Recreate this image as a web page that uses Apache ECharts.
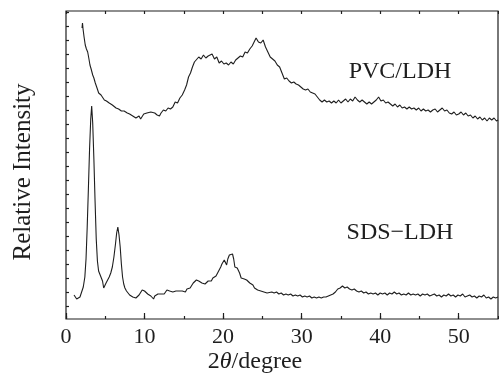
<!DOCTYPE html>
<html>
<head>
<meta charset="utf-8">
<script src="https://cdn.jsdelivr.net/npm/echarts@6/dist/echarts.min.js"></script>
<style>html,body{margin:0;padding:0;background:#fff}#c{width:499px;height:380px}</style>
</head>
<body>
<div id="c"></div>
<script>
// 2θ (degree) and relative intensity (a.u.)
const pvcTheta = [2.04,2.1,2.17,2.3,2.45,2.6,2.76,2.9,3.05,3.2,3.4,3.55,3.73,3.95,4.16,4.3,4.46,4.65,4.88,5.0,5.15,5.3,5.5,5.73,5.9,6.1,6.37,6.5,6.7,6.9,7.05,7.2,7.4,7.64,7.8,7.95,8.1,8.3,8.5,8.7,8.9,9.1,9.3,9.5,9.7,9.9,10.1,10.3,10.5,10.8,11.0,11.3,11.6,11.9,12.1,12.4,12.7,13.0,13.3,13.6,13.9,14.2,14.5,14.8,15.1,15.35,15.6,15.85,16.1,16.35,16.6,16.9,17.2,17.5,17.8,18.1,18.3,18.6,18.9,19.2,19.5,19.8,20.1,20.4,20.7,21.0,21.3,21.6,21.9,22.2,22.5,22.8,23.1,23.4,23.7,23.9,24.2,24.5,24.8,25.1,25.4,25.7,26.0,26.3,26.6,26.9,27.2,27.5,27.8,28.1,28.4,28.7,29.0,29.3,29.6,29.9,30.2,30.5,30.8,31.1,31.4,31.7,32.0,32.3,32.6,32.9,33.2,33.5,33.8,34.1,34.4,34.7,35.0,35.3,35.6,35.9,36.2,36.5,36.8,37.1,37.4,37.7,38.0,38.3,38.6,38.9,39.2,39.5,39.8,40.1,40.4,40.7,41.0,41.3,41.6,41.9,42.2,42.5,42.8,43.1,43.4,43.7,44.0,44.3,44.6,44.9,45.2,45.5,45.8,46.1,46.4,46.7,47.0,47.3,47.6,47.9,48.2,48.5,48.8,49.1,49.4,49.7,50.0,50.3,50.6,50.9,51.2,51.5,51.8,52.1,52.4,52.7,53.0,53.3,53.6,53.9,54.2,54.5,54.8,55.0];
const pvcIntensity = [291,296,290,282,274,270,267,261,254,250,244,241,236,231,226,227,224,222,219,221,218,219,216,217,214,213,211,213,210,211,208,206,208,209,206,207,205,206,203,204,201,199,203,200,202,205,203,206,205,207,205,206,204,203,206,209,208,211,210,212,217,216,221,224,229,234,242,246,252,257,256,262,260,264,261,263,262,265,260,262,256,258,255,256,254,257,255,259,261,263,262,267,266,270,273,275,281,277,276,279,272,267,262,260,258,254,252,246,240,241,238,236,237,235,234,232,230,229,230,227,226,225,222,219,217,219,217,218,216,218,216,219,216,218,220,217,220,218,222,219,217,219,217,215,217,215,217,219,222,218,219,216,217,215,213,215,212,214,211,212,210,212,210,211,209,211,208,210,208,209,207,209,210,207,209,211,208,209,206,205,207,204,205,207,204,206,203,204,201,203,200,202,199,201,198,201,199,201,198,199,197];

const sdsTheta = [1.02,1.36,1.78,2.2,2.4,2.55,2.7,2.85,3.0,3.15,3.27,3.4,3.55,3.7,3.85,4.0,4.15,4.3,4.5,4.65,4.8,4.95,5.1,5.3,5.5,5.7,5.9,6.1,6.3,6.45,6.6,6.75,6.9,7.05,7.2,7.35,7.5,7.7,7.9,8.1,8.3,8.5,8.7,8.9,9.1,9.3,9.5,9.7,9.85,10.0,10.2,10.4,10.6,10.8,11.0,11.15,11.3,11.5,11.7,11.9,12.1,12.3,12.5,12.7,12.85,13.0,13.2,13.4,13.6,13.8,14.0,14.2,14.4,14.6,14.8,15.0,15.2,15.4,15.6,15.8,16.0,16.2,16.4,16.6,16.75,16.9,17.1,17.3,17.5,17.7,17.9,18.1,18.3,18.5,18.7,18.9,19.1,19.3,19.5,19.7,19.85,20.0,20.15,20.3,20.45,20.6,20.8,20.95,21.05,21.2,21.35,21.5,21.65,21.8,21.95,22.1,22.3,22.5,22.7,22.85,23.0,23.2,23.4,23.6,23.8,24.0,24.2,24.4,24.6,24.8,25.0,25.2,25.4,25.6,25.8,26.2,26.5,26.8,27.1,27.4,27.7,28.0,28.3,28.6,28.9,29.2,29.5,29.8,30.1,30.4,30.7,31.0,31.3,31.6,31.9,32.2,32.5,32.8,33.1,33.4,33.7,34.0,34.3,34.6,34.9,35.2,35.5,35.8,36.1,36.4,36.7,37.0,37.3,37.6,37.9,38.2,38.5,38.8,39.1,39.4,39.7,40.0,40.3,40.6,40.9,41.2,41.5,41.8,42.1,42.4,42.7,43.0,43.3,43.6,43.9,44.2,44.5,44.8,45.1,45.4,45.7,46.0,46.3,46.6,46.9,47.2,47.5,47.8,48.1,48.4,48.7,49.0,49.3,49.6,49.9,50.2,50.5,50.8,51.1,51.4,51.7,52.0,52.3,52.6,52.9,53.2,53.5,53.8,54.1,54.4,54.7,55.0];
const sdsIntensity = [24,20,22,32,42,60,92,130,170,200,213,196,160,118,80,58,48,45,45,38,31,33,36,38,42,46,52,62,75,86,92,84,72,55,42,35,31,28,26,24,25,22,23,21,23,24,26,29,30,28,27,25,26,23,22,20,23,22,25,23,25,23,25,26,29,31,28,30,27,29,28,30,28,30,28,29,27,30,29,31,33,36,35,39,41,38,39,36,37,35,36,38,39,38,41,42,43,46,49,52,55,56,59,58,54,60,64,62,65,65,60,52,53,51,50,46,41,39,40,38,39,38,36,37,34,31,31,29,30,28,28,27,28,26,26,27,26,27,25,26,24,25,24,25,23,24,23,24,22,23,22,23,21,22,21,22,21,22,22,23,24,25,27,30,31,33,31,32,30,29,30,28,27,28,26,27,25,26,25,26,24,26,25,26,24,26,25,27,25,26,24,25,24,26,24,25,24,25,23,25,24,25,23,24,25,23,24,22,24,23,25,23,24,22,24,23,25,22,23,24,22,23,21,23,22,24,21,22,20,22,21,22];

const xTickLabels = [0, 10, 20, 30, 40, 50];
const yTickValues = [13,27,41,55,69,83,97,111,125,139,153,167,181,195,209,223,237,251,265,279,293,307];
const seriesNames = ['PVC/LDH', 'SDS\u2212LDH'];

const serif = '"Liberation Serif", "Times New Roman", Times, serif';
const ink = '#1e1e1e';

const chart = echarts.init(document.getElementById('c'), null, {renderer: 'canvas'});
const pair = (xs, ys) => xs.map((x, i) => [x, ys[i]]);

const option = {
  animation: false,
  backgroundColor: '#fff',
  grid: {left: 66, right: 1, top: 11, bottom: 61, show: true, borderColor: ink, borderWidth: 1.2, backgroundColor: 'transparent'},
  xAxis: [
    {type: 'value', position: 'bottom', min: 0, max: 55, interval: 10,
     axisLine: {show: false}, splitLine: {show: false},
     axisTick: {show: true, inside: true, length: 6, lineStyle: {color: ink, width: 1.2}},
     axisLabel: {show: true, showMaxLabel: false, margin: 7, color: ink, fontFamily: serif, fontSize: 22,
       formatter: v => xTickLabels.indexOf(v) >= 0 ? String(v) : ''}},
    {type: 'value', position: 'bottom', min: 0, max: 55, interval: 5,
     axisLine: {show: false}, splitLine: {show: false}, axisLabel: {show: false},
     axisTick: {show: true, inside: true, length: 3, lineStyle: {color: ink, width: 1.2}}},
    {type: 'value', position: 'top', min: 0, max: 55, interval: 5,
     axisLine: {show: false}, splitLine: {show: false}, axisLabel: {show: false},
     axisTick: {show: true, inside: true, length: 3, lineStyle: {color: ink, width: 1.2}}}
  ],
  yAxis: [
    {type: 'value', position: 'left', min: 0, max: 308,
     axisLine: {show: false}, splitLine: {show: false}, axisLabel: {show: false},
     axisTick: {show: true, inside: true, length: 3, customValues: yTickValues, lineStyle: {color: ink, width: 1.2}}}
  ],
  series: [
    {name: seriesNames[0], type: 'line', xAxisIndex: 0, yAxisIndex: 0, data: pair(pvcTheta, pvcIntensity),
     showSymbol: false, symbol: 'none', lineStyle: {color: ink, width: 1.1}},
    {name: seriesNames[1], type: 'line', xAxisIndex: 0, yAxisIndex: 0, data: pair(sdsTheta, sdsIntensity),
     showSymbol: false, symbol: 'none', lineStyle: {color: ink, width: 1.1}}
  ],
  graphic: [
    {type: 'text', x: 400, y: 72, style: {text: seriesNames[0], fill: ink, font: '24px ' + serif, align: 'center', verticalAlign: 'middle'}},
    {type: 'text', x: 400, y: 233, style: {text: seriesNames[1], fill: ink, font: '24px ' + serif, align: 'center', verticalAlign: 'middle'}},
    {type: 'text', x: 23, y: 172, rotation: Math.PI / 2, style: {text: 'Relative Intensity', fill: ink, font: '25px ' + serif, align: 'center', verticalAlign: 'middle'}},
    {type: 'text', x: 255, y: 362, style: {text: '2{i|\u03b8}/degree', fill: ink, font: '24px ' + serif, align: 'center', verticalAlign: 'middle',
      rich: {i: {fontStyle: 'italic', fontFamily: serif, fontSize: 24, fill: ink}}}}
  ]
};
chart.setOption(option);
</script>
</body>
</html>
